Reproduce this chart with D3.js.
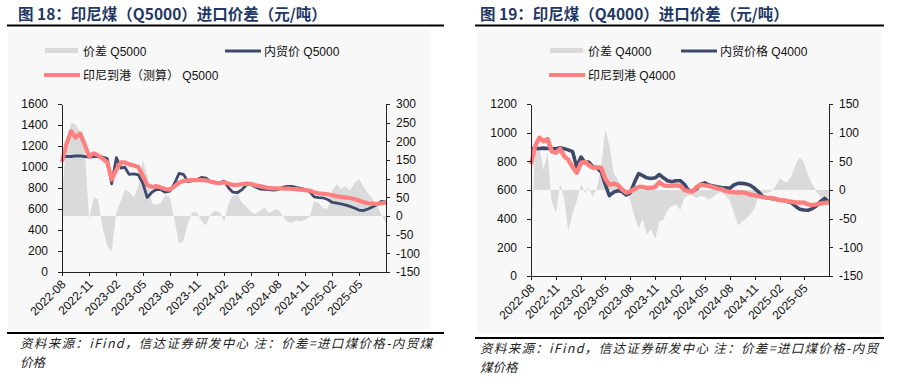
<!DOCTYPE html>
<html>

<head>
    <meta charset="utf-8">
    <title>印尼煤进口价差</title>
    <script src="https://d3js.org/d3.v7.min.js"></script>
    <style>
        body {
            margin: 0;
            background: #fff;
            font-family: "Liberation Sans", "Noto Sans CJK SC", sans-serif;
        }

        .title {
            font-family: "Noto Sans CJK SC", sans-serif;
            font-weight: bold;
            font-size: 15.5px;
            fill: #1f3864;
        }

        .legend text {
            font-family: "Liberation Sans", "Noto Sans CJK SC", sans-serif;
            font-size: 12px;
            fill: #111;
        }

        .axis text {
            font-family: "Liberation Sans", Arial, sans-serif;
            font-size: 12px;
            fill: #111;
        }

        .axis path,
        .axis line {
            fill: none;
            stroke: #222;
            shape-rendering: crispEdges;
        }

        .note {
            font-family: "Noto Sans CJK SC", sans-serif;
            font-style: italic;
            font-size: 12.5px;
            fill: #222;
        }
    </style>
</head>

<body>
    <svg width="904" height="384"></svg>

    <script>
        // x categories: 1st and 16th of every month, 2022-08-01 .. 2025-08-01
        const dates = [];
        for (let m = 0; m <= 36; m++) {
            dates.push(new Date(2022, 7 + m, 1));
            if (m < 36) dates.push(new Date(2022, 7 + m, 16));
        }

        const tickLabels = ["2022-08", "2022-11", "2023-02", "2023-05", "2023-08", "2023-11",
            "2024-02", "2024-05", "2024-08", "2024-11", "2025-02", "2025-05"];

        // Q5000 (元/吨)
        const q5000Diff = [
            50, 200, 250, 245, 225, 190, -10, 50, 45, -30,
            -80, -95, 10, 40, 70, 65, 50, 80, 150, 110,
            35, 30, 35, 55, 50, -10, -75, -65, -20, 10,
            10, -15, -25, 5, 15, 10, -15, 35, 55, 58,
            35, 25, 11, 6, 15, 22, 8, 15, 18, 0,
            -15, -18, -12, -15, -10, -3, 40, 35, 20, 20,
            70, 85, 72, 80, 68, 88, 100, 80, 60, 48,
            28, 5, -20];
        const q5000Domestic = [
            1100, 1100, 1100, 1105, 1105, 1100, 1095, 1100, 1100, 1095,
            1080, 840, 1090, 990, 1000, 930, 935, 925, 850, 710,
            760, 785, 785, 760, 770, 840, 940, 930, 860, 870,
            880, 900, 895, 860, 855, 850, 865, 800, 760, 755,
            785, 830, 835, 810, 790, 788, 785, 780, 785, 805,
            815, 815, 805, 797, 785, 765, 715, 708, 705, 690,
            662, 655, 648, 640, 625, 610, 590, 585, 600, 620,
            640, 672, 665];
        const q5000Import = [
            1050, 1220, 1340, 1280, 1320, 1220, 1100, 1130, 1110, 1080,
            1045, 880, 975, 1045, 1045, 1025, 1015, 1000, 920, 830,
            810, 818, 805, 790, 785, 815, 850, 868, 872, 876,
            875, 876, 872, 862, 850, 845, 855, 840, 829, 829,
            838, 842, 840, 825, 818, 808, 798, 797, 797, 795,
            795, 792, 790, 785, 780, 775, 760, 749, 745, 740,
            730, 720, 715, 710, 705, 695, 680, 665, 655, 650,
            648, 655, 660];

        // Q4000 (元/吨)
        const q4000Diff = [
            -100, 70, 75, 35, 65, -20, -40, 10, -15, -73,
            -40, -20, 10, -5, 5, -12, 5, 38, 105, 78,
            30, 18, -8, 2, -18, -45, -67, -50, -78, -68,
            -85, -55, -52, -35, -28, -25, -35, -14, -9, -9,
            -14, -10, -12, -17, -12, -6, -4, -10, -18, -40,
            -62, -55, -50, -42, -32, -8, -6, -5, -2, 6,
            20, 15, 14, 25, 45, 57, 48, 26, 10, -2,
            -12, -18, -12];
        const q4000Domestic = [
            890, 890, 890, 892, 890, 890, 888, 895, 888, 880,
            868, 760, 830, 790, 795, 762, 752, 727, 640, 560,
            585, 595, 590, 565, 580, 650, 715, 700, 685, 680,
            685, 708, 685, 665, 657, 665, 665, 640, 600, 590,
            608, 640, 650, 635, 628, 622, 618, 615, 612, 635,
            646, 646, 642, 632, 610, 585, 553, 545, 541, 535,
            529, 529, 520, 510, 485, 466, 460, 459, 470, 490,
            520, 541, 515];
        const q4000Import = [
            780, 905, 965, 940, 955, 870, 860, 888, 835, 812,
            760, 720, 790, 795, 775, 755, 758, 755, 680, 636,
            645, 636, 605, 582, 590, 605, 622, 622, 614, 615,
            622, 655, 632, 629, 629, 632, 630, 600, 592, 588,
            620, 637, 632, 629, 620, 612, 606, 594, 587, 584,
            583, 583, 578, 568, 562, 555, 550, 547, 545, 538,
            530, 527, 522, 518, 513, 513, 512, 500, 495, 500,
            506, 510, 513];

        const gray = "#dadada", navy = "#3d4a6b", pink = "#ff7f7f";
        const svg = d3.select("svg");
        const parseMonth = d3.timeParse("%Y-%m");

        function drawChart(c) {
            const g = svg.append("g");

            g.append("rect")
                .attr("x", c.panel[0]).attr("y", c.panel[1])
                .attr("width", c.panel[2]).attr("height", c.panel[3])
                .attr("fill", "#f8f8f8");

            g.append("text").attr("class", "title")
                .attr("x", c.titleX).attr("y", 20)
                .text(c.title);
            g.append("line")
                .attr("x1", c.rule[0]).attr("x2", c.rule[1])
                .attr("y1", 25.5).attr("y2", 25.5)
                .attr("stroke", "#000").attr("stroke-width", 2.2);

            const x = d3.scaleTime()
                .domain([dates[0], dates[dates.length - 1]])
                .range([c.left, c.right]);
            const y1 = d3.scaleLinear().domain([0, c.y1Max]).range([c.bottom, c.top]);
            const y2 = d3.scaleLinear().domain(c.y2Domain).range([c.bottom, c.top]);

            const area = d3.area()
                .x((d, i) => x(dates[i]))
                .y0(y2(0))
                .y1(d => y2(d));
            const line = d3.line()
                .x((d, i) => x(dates[i]))
                .y(d => y1(d));

            g.append("path").datum(c.diff)
                .attr("d", area).attr("fill", gray);
            g.append("path").datum(c.domestic)
                .attr("d", line).attr("fill", "none")
                .attr("stroke", navy).attr("stroke-width", c.widths[0])
                .attr("stroke-linejoin", "round");
            g.append("path").datum(c.imported)
                .attr("d", line).attr("fill", "none")
                .attr("stroke", pink).attr("stroke-width", c.widths[1])
                .attr("stroke-linejoin", "round");

            // axes (plain hyphen minus, no thousands separator)
            const plain = d => String(d);
            g.append("g").attr("class", "axis")
                .attr("transform", "translate(" + c.left + ",0)")
                .call(d3.axisLeft(y1).tickValues(d3.range(0, c.y1Max + 1, 200))
                    .tickFormat(plain).tickSize(4).tickSizeOuter(0).tickPadding(10));
            g.append("g").attr("class", "axis")
                .attr("transform", "translate(" + c.right + ",0)")
                .call(d3.axisRight(y2).tickValues(d3.range(c.y2Domain[0], c.y2Domain[1] + 1, 50))
                    .tickFormat(plain).tickSize(4).tickSizeOuter(0).tickPadding(6));
            g.append("g").attr("class", "axis")
                .attr("transform", "translate(0," + c.bottom + ")")
                .call(d3.axisBottom(x).tickValues(tickLabels.map(parseMonth))
                    .tickFormat(d3.timeFormat("%Y-%m")).tickSize(4).tickSizeOuter(0))
                .selectAll("text")
                .attr("x", 0).attr("y", 0).attr("dy", 0)
                .attr("transform", "translate(4,13) rotate(-45)")
                .style("text-anchor", "end");

            // legend
            const lg = g.append("g").attr("class", "legend");
            lg.append("rect").attr("x", c.leg[0]).attr("y", 48)
                .attr("width", 33).attr("height", 5).attr("fill", gray);
            lg.append("text").attr("x", c.leg[0] + 38).attr("y", 56).text(c.names[0]);
            lg.append("line").attr("x1", c.leg[1]).attr("x2", c.leg[1] + 36)
                .attr("y1", 51).attr("y2", 51)
                .attr("stroke", navy).attr("stroke-width", 3);
            lg.append("text").attr("x", c.leg[1] + 39).attr("y", 56).text(c.names[1]);
            lg.append("line").attr("x1", c.leg[0] - 1).attr("x2", c.leg[0] + 35)
                .attr("y1", 75).attr("y2", 75)
                .attr("stroke", pink).attr("stroke-width", 4);
            lg.append("text").attr("x", c.leg[0] + 38).attr("y", 80).text(c.names[2]);

            // source note
            g.append("line")
                .attr("x1", c.rule[0]).attr("x2", c.rule[1])
                .attr("y1", c.noteRule).attr("y2", c.noteRule)
                .attr("stroke", "#000").attr("stroke-width", 2.2);
            c.note.forEach((t, i) => {
                const tx = g.append("text").attr("class", "note")
                    .attr("x", c.noteX).attr("y", c.noteRule + 15 + i * 19)
                    .text(t);
                if (i === 0) tx.attr("textLength", c.noteWidth).attr("lengthAdjust", "spacing");
            });
        }

        drawChart({
            title: "图 18：印尼煤（Q5000）进口价差（元/吨）",
            titleX: 18, rule: [7, 444], panel: [8, 29, 422, 301],
            left: 62, right: 386, top: 104, bottom: 272,
            y1Max: 1600, y2Domain: [-150, 300], widths: [2.8, 4.2],
            diff: q5000Diff, domestic: q5000Domestic, imported: q5000Import,
            leg: [45, 225],
            names: ["价差 Q5000", "内贸价 Q5000", "印尼到港（测算）  Q5000"],
            noteRule: 333, noteX: 20, noteWidth: 412,
            note: ["资料来源：iFind，信达证券研发中心 注：价差=进口煤价格-内贸煤", "价格"]
        });

        drawChart({
            title: "图 19：印尼煤（Q4000）进口价差（元/吨）",
            titleX: 480, rule: [475, 884], panel: [477, 29, 404, 305],
            left: 531, right: 829, top: 104, bottom: 276,
            y1Max: 1200, y2Domain: [-150, 150], widths: [3.6, 4.4],
            diff: q4000Diff, domestic: q4000Domestic, imported: q4000Import,
            leg: [550, 681],
            names: ["价差 Q4000", "内贸价格 Q4000", "印尼到港 Q4000"],
            noteRule: 338, noteX: 480, noteWidth: 398,
            note: ["资料来源：iFind，信达证券研发中心 注：价差=进口煤价格-内贸", "煤价格"]
        });
    </script>
</body>

</html>
